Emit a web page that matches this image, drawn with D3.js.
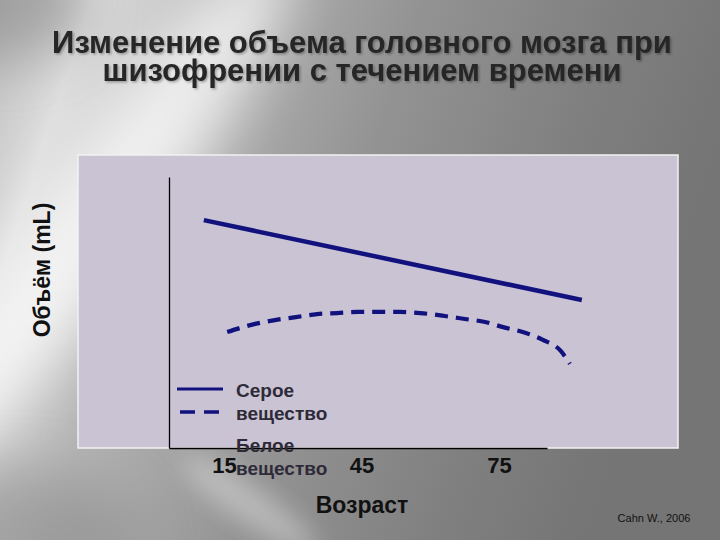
<!DOCTYPE html>
<html>
<head>
<meta charset="utf-8">
<script src="https://cdn.jsdelivr.net/npm/d3@7"></script>
<style>
  html, body { margin: 0; padding: 0; background: #808080; }
  svg { display: block; font-family: "Liberation Sans", Arial, sans-serif; }
</style>
</head>
<body>
<svg id="chart" width="720" height="540"></svg>
<script>
// data (volume in arbitrary units, no y ticks on the original)
const seriesNames = ["Серое вещество", "Белое вещество"]
const tickAges = [15, 45, 75]

const grayAges = [10.6, 93.1]
const grayVolume = [84.1, 54.6]

const whiteAges = [15.7, 21.8, 26.1, 30.7, 35.3, 39.7, 44.2, 48.6, 53.4, 57.8, 63.2, 67.6, 72.0, 75.9, 80.2, 84.6, 88.5, 90.5]
const whiteVolume = [42.8, 45.8, 47.2, 48.3, 49.4, 49.8, 50.2, 50.2, 50.2, 49.8, 48.7, 47.6, 46.5, 44.6, 42.8, 39.9, 35.8, 31.0]

const width = 720, height = 540
const box = { left: 78, top: 155, right: 678, bottom: 448 }
const lineColor = "#12127e"

const svg = d3.select("#chart")
    .attr("viewBox", [0, 0, width, height])

// background, gray slide with light streak
const defs = svg.append("defs")
const bg = defs.append("linearGradient")
    .attr("id", "bg").attr("x1", "0").attr("y1", "0").attr("x2", "1").attr("y2", "0.25")
bg.selectAll("stop")
    .data([[0, "#bdbdbd"], [0.12, "#dedede"], [0.3, "#b4b4b4"], [0.55, "#939393"], [0.8, "#808080"], [1, "#757575"]])
    .enter().append("stop")
    .attr("offset", d => d[0]).attr("stop-color", d => d[1])

defs.append("filter").attr("id", "blur").attr("x", "-50%").attr("y", "-50%").attr("width", "200%").attr("height", "200%")
    .append("feGaussianBlur").attr("stdDeviation", 28)
defs.append("filter").attr("id", "blur2").attr("x", "-50%").attr("y", "-50%").attr("width", "200%").attr("height", "200%")
    .append("feGaussianBlur").attr("stdDeviation", 12)
defs.append("filter").attr("id", "shadow").attr("x", "-10%").attr("y", "-30%").attr("width", "120%").attr("height", "160%")
    .append("feDropShadow")
    .attr("dx", 1.5).attr("dy", 1.5).attr("stdDeviation", 1)
    .attr("flood-color", "#000").attr("flood-opacity", 0.3)

svg.append("rect").attr("width", width).attr("height", height).attr("fill", "url(#bg)")

svg.append("ellipse")
    .attr("cx", 110).attr("cy", 200).attr("rx", 55).attr("ry", 300)
    .attr("transform", "rotate(35,110,200)")
    .attr("fill", "#fff").attr("opacity", 0.75)
    .attr("filter", "url(#blur)")

svg.append("ellipse")
    .attr("cx", 0).attr("cy", 0).attr("rx", 90).attr("ry", 60)
    .attr("fill", "#8c8c8c").attr("opacity", 0.6)
    .attr("filter", "url(#blur)")

svg.append("ellipse")
    .attr("cx", 20).attr("cy", 540).attr("rx", 120).attr("ry", 70)
    .attr("fill", "#8e8e8e").attr("opacity", 0.6)
    .attr("filter", "url(#blur)")

svg.append("ellipse")
    .attr("cx", 250).attr("cy", 505).attr("rx", 18).attr("ry", 80)
    .attr("transform", "rotate(-55,250,505)")
    .attr("fill", "#fff").attr("opacity", 0.35)
    .attr("filter", "url(#blur2)")

// title
const titleLines = ["Изменение объема головного мозга при", "шизофрении с течением времени"]
svg.append("g")
    .attr("filter", "url(#shadow)")
    .selectAll("text")
    .data(titleLines)
    .enter().append("text")
    .attr("x", 362).attr("y", (d, i) => 53 + i * 28)
    .attr("text-anchor", "middle")
    .attr("font-size", 31).attr("font-weight", "bold")
    .attr("fill", "#262626")
    .text(d => d)

// plot area
svg.append("rect")
    .attr("x", box.left).attr("y", box.top)
    .attr("width", box.right - box.left).attr("height", box.bottom - box.top)
    .attr("fill", "#c9c3d3")
    .attr("stroke", "#f2f2f2").attr("stroke-width", 1.5)

const x = d3.scaleLinear()
    .domain([3, 85.5])
    .range([169, 547])

const y = d3.scaleLinear()
    .domain([0, 100])
    .range([448, 177])

const xAxis = g => g
    .attr("transform", `translate(0,${y(0)})`)
    .call(d3.axisBottom(x).tickValues(tickAges).tickSize(0).tickPadding(9))
    .call(g => g.select(".domain").attr("stroke", "#000").attr("stroke-width", 1.3))
    .call(g => g.selectAll("text")
        .attr("font-size", 22).attr("font-weight", "bold")
        .attr("font-family", "Liberation Sans, Arial, sans-serif")
        .attr("fill", "#111"))

const yAxis = g => g
    .attr("transform", `translate(${x(3)},0)`)
    .call(d3.axisLeft(y).tickValues([]).tickSizeOuter(0))
    .call(g => g.select(".domain").attr("stroke", "#000").attr("stroke-width", 1.3))

svg.append("g").call(xAxis)
svg.append("g").call(yAxis)

// series
const line = d3.line()
    .x(d => x(d[0]))
    .y(d => y(d[1]))

svg.append("path")
    .datum(d3.zip(grayAges, grayVolume))
    .attr("fill", "none")
    .attr("stroke", lineColor).attr("stroke-width", 4.5)
    .attr("d", line)

svg.append("path")
    .datum(d3.zip(whiteAges, whiteVolume))
    .attr("fill", "none")
    .attr("stroke", lineColor).attr("stroke-width", 4.2)
    .attr("stroke-dasharray", "13,8")
    .attr("d", line.curve(d3.curveMonotoneX))

// legend (symbols stacked tight, labels wrap on two lines each)
const legend = svg.append("g")
seriesNames.forEach((name, i) => {
    legend.append("line")
        .attr("x1", i ? 180 : 177).attr("x2", i ? 219 : 223)
        .attr("y1", 389 + i * 23).attr("y2", 389 + i * 23)
        .attr("stroke", lineColor).attr("stroke-width", i ? 3.5 : 3.2)
        .attr("stroke-dasharray", i ? "15,9" : null)
    name.split(" ").forEach((word, j) => {
        legend.append("text")
            .attr("x", 236).attr("y", 397 + i * 55 + j * 23)
            .attr("font-size", 19).attr("font-weight", "bold")
            .attr("fill", "#2e2a38")
            .text(word)
    })
})

// axis titles and source
svg.append("text")
    .attr("x", 362).attr("y", 513)
    .attr("text-anchor", "middle")
    .attr("font-size", 23).attr("font-weight", "bold")
    .attr("fill", "#111")
    .text("Возраст")

svg.append("text")
    .attr("transform", "translate(50,270) rotate(-90)")
    .attr("text-anchor", "middle")
    .attr("font-size", 23).attr("font-weight", "bold")
    .attr("fill", "#111")
    .text("Объём (mL)")

svg.append("text")
    .attr("x", 654).attr("y", 522)
    .attr("text-anchor", "middle")
    .attr("font-size", 11)
    .attr("fill", "#111")
    .text("Cahn W., 2006")
</script>
</body>
</html>
